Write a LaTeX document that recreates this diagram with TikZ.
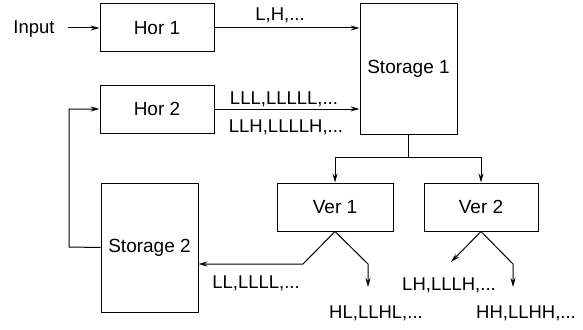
\documentclass[tikz,border=0pt]{standalone}
\usepackage{fontspec}
\setmainfont{Liberation Sans}
\usetikzlibrary{arrows.meta}
\begin{document}
\begin{tikzpicture}[x=1pt,y=-1pt,
  box/.style={draw,line width=1pt,inner sep=0pt,font=\fontsize{19}{22}\selectfont},
  lbl/.style={inner sep=0pt,font=\fontsize{18.5}{22}\selectfont},
  conn/.style={line width=1pt},
  arr/.style={conn,-{Stealth[length=9pt,width=5pt]}}]
\useasboundingbox (0,0) rectangle (583,329);
\node[box,minimum width=114pt,minimum height=48pt] (hor1) at (157,28) {Hor 1};
\node[box,minimum width=114pt,minimum height=48pt] (hor2) at (157,109) {Hor 2};
\node[box,minimum width=97pt,minimum height=130pt] (st1) at (408.5,69) {Storage 1};
\node[box,minimum width=97pt,minimum height=129pt] (st2) at (149.5,247.5) {Storage 2};
\node[box,minimum width=116pt,minimum height=48pt] (ver1) at (335,207) {Ver 1};
\node[box,minimum width=114pt,minimum height=48pt] (ver2) at (481,207) {Ver 2};
\node[lbl] (input) at (34,29) {Input};
\coordinate (inend) at (68,28);
\coordinate (fb) at (69,247);
\coordinate (split) at (408.5,157);
\coordinate (v1a) at (303,264);
\coordinate (v1b) at (368,264);
\coordinate (v1c) at (368,287);
\coordinate (v2a) at (451,262);
\coordinate (v2b) at (513,264);
\coordinate (v2c) at (513,287);
\draw[arr] (inend) -- (hor1.west);
\draw[arr] (hor1.east) -- (hor1.east -| st1.west);
\draw[arr] (hor2.east) -- (hor2.east -| st1.west);
\draw[arr] (st2.west) -- (fb) |- (hor2.west);
\draw[conn] (st1.south) -- (split);
\draw[arr] (split) -| (ver1.north);
\draw[arr] (split) -| (ver2.north);
\draw[arr] (ver1.south) -- (v1a) -- (v1a -| st2.east);
\draw[arr] (ver1.south) -- (v1b) -- (v1c);
\draw[arr] (ver2.south) -- (v2a);
\draw[arr] (ver2.south) -- (v2b) -- (v2c);
\node[lbl] (l1) at (280,15) {L,H,...};
\node[lbl] (l2) at (284,99) {LLL,LLLLL,...};
\node[lbl] (l3) at (286,127) {LLH,LLLLH,...};
\node[lbl] (l4) at (256,283) {LL,LLLL,...};
\node[lbl] (l5) at (376,313) {HL,LLHL,...};
\node[lbl] (l6) at (449,285) {LH,LLLH,...};
\node[lbl] (l7) at (526,313) {HH,LLHH,...};
\end{tikzpicture}
\end{document}
